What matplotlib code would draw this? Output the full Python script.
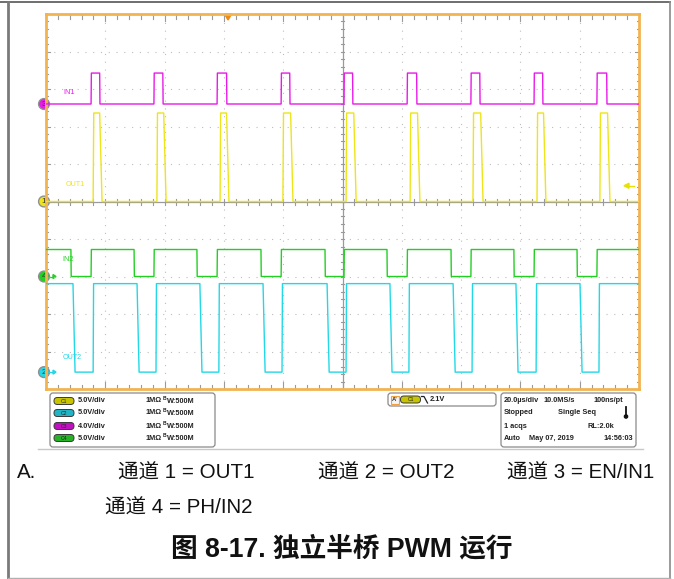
import matplotlib
matplotlib.use("Agg")
import matplotlib.pyplot as plt
from matplotlib.patches import FancyBboxPatch, Circle, Polygon, Rectangle
import numpy as np

plt.rcParams['font.family'] = ['Liberation Sans', 'Noto Sans CJK SC', 'DejaVu Sans']

# ---------------- data (time in µs, levels in volts) ----------------
time_span_us = 200.0          # 20 µs/div x 10 div
volts_per_div = {"C1": 5.0, "C2": 5.0, "C3": 4.0, "C4": 5.0}
offset_div = {"C1": 0.0, "C2": -4.55, "C3": 2.60, "C4": -2.0}
low_v = {"C1": 0.0, "C2": 0.0, "C3": 0.0, "C4": 0.0}
high_v = {"C1": 11.8, "C2": 11.8, "C3": 3.3, "C4": 3.6}

# OUT1 (C1): pulses high
out1_rise = [15.9, 37.4, 58.7, 79.9, 101.2, 122.8, 144.0, 165.6, 186.8]
out1_fall = [18.9, 40.5, 61.7, 83.3, 104.6, 126.1, 147.4, 168.6, 190.2]
# OUT2 (C2): normally high, pulses low
out2_fall = [9.1, 30.7, 51.9, 73.2, 94.8, 116.0, 137.3, 158.5, 180.1]
out2_rise = [15.9, 37.1, 58.3, 79.6, 101.2, 122.4, 143.7, 165.3, 186.5]
# EN/IN1 (C3): pulses high
in1_rise = [15.2, 36.4, 57.7, 79.3, 100.5, 121.8, 143.3, 164.6, 185.8]
in1_fall = [18.2, 39.5, 61.0, 82.3, 103.5, 125.1, 146.4, 167.6, 189.2]
# PH/IN2 (C4): normally high, pulses low
in2_fall = [8.4, 29.7, 50.9, 72.5, 94.1, 115.0, 136.6, 157.8, 179.1]
in2_rise = [15.2, 36.4, 57.7, 79.3, 100.5, 121.8, 143.3, 164.6, 185.8]

trigger_level_v = 2.1
trigger_time_us = 61.4

ch_info = ["5.0V/div", "5.0V/div", "4.0V/div", "5.0V/div"]
ch_names = ["C1", "C2", "C3", "C4"]
notes_row1 = ["通道 1 = OUT1", "通道 2 = OUT2", "通道 3 = EN/IN1"]
notes_row2 = ["通道 4 = PH/IN2"]
title = "图 8-17. 独立半桥 PWM 运行"

colors = {"C1": "#EEE41A", "C2": "#22D8E6", "C3": "#E81AE8", "C4": "#22D022"}
pill_colors = {"C1": "#C8C400", "C2": "#20B4C4", "C3": "#C010C0", "C4": "#28B028"}

# ---------------- figure ----------------
W, H = 674, 579
fig = plt.figure(figsize=(W / 100, H / 100), dpi=100)
bg = fig.add_axes([0, 0, 1, 1])
bg.set_xlim(0, W)
bg.set_ylim(H, 0)
bg.axis("off")

# outer frame
bg.plot([0, 670], [2, 2], color="#555555", lw=1.2)
bg.plot([8, 8], [2, H], color="#7a7a7a", lw=2.0)
bg.plot([670, 670], [2, H], color="#8a8a8a", lw=1.2)
bg.plot([8, 670], [577.5, 577.5], color="#b0b0b0", lw=1.0)
bg.plot([38, 643], [448.5, 448.5], color="#c8c8c8", lw=1.0)

# scope area
gx0, gy0, gx1, gy1 = 46, 14, 639, 389
sc = fig.add_axes([gx0 / W, 1 - gy1 / H, (gx1 - gx0) / W, (gy1 - gy0) / H])
sc.set_xlim(0, time_span_us)
sc.set_ylim(-5, 5)
sc.set_xticks([])
sc.set_yticks([])
for s in sc.spines.values():
    s.set_color("#F2B350")
    s.set_linewidth(2.0)
sc.patch.set_alpha(0)

# dotted grid
for k in range(1, 10):
    if k != 5:
        sc.axvline(k * 20, color="#bdbdbd", lw=0.8, ls=(0, (1, 6)), zorder=1)
for k in range(-4, 5):
    if k != 0:
        sc.axhline(k, color="#bdbdbd", lw=0.8, ls=(0, (1, 6)), zorder=1)
# center lines
sc.axvline(100, color="#9a9a9a", lw=0.9, zorder=1)
sc.axhline(0, color="#9a9a9a", lw=0.9, zorder=1)
# minor ticks on borders and center lines
tk = "#9a9a9a"
for i in range(1, 50):
    x = i * 4
    L = 0.12 if i % 5 else 0.18
    sc.plot([x, x], [5, 5 - L], color=tk, lw=0.8, zorder=1)
    sc.plot([x, x], [-5, -5 + L], color=tk, lw=0.8, zorder=1)
    sc.plot([x, x], [-0.08, 0.08], color=tk, lw=0.8, zorder=1)
for i in range(1, 50):
    y = -5 + i * 0.2
    L = 0.8 if i % 5 else 1.2
    sc.plot([0, L], [y, y], color=tk, lw=0.8, zorder=1)
    sc.plot([200, 200 - L], [y, y], color=tk, lw=0.8, zorder=1)
    sc.plot([99.4, 100.6], [y, y], color=tk, lw=0.8, zorder=1)


def to_div(ch, v):
    return offset_div[ch] + v / volts_per_div[ch]


def pulse_wave(ch, up_edges, down_edges, start_high, up_dt, down_dt):
    lo, hi = to_div(ch, low_v[ch]), to_div(ch, high_v[ch])
    events = [(t, "up") for t in up_edges] + [(t, "down") for t in down_edges]
    events.sort()
    xs, ys = [0.0], [hi if start_high else lo]
    for t, kind in events:
        if kind == "up":
            xs += [t, t + up_dt]
            ys += [lo, hi]
        else:
            xs += [t - down_dt, t] if not start_high else [t, t + down_dt]
            ys += [hi, lo]
    xs.append(time_span_us)
    ys.append(ys[-1])
    return xs, ys


x1, y1 = pulse_wave("C1", out1_rise, out1_fall, False, 0.2, 0.8)
x2, y2 = pulse_wave("C2", out2_rise, out2_fall, True, 0.15, 0.7)
x3, y3 = pulse_wave("C3", in1_rise, in1_fall, False, 0.1, 0.1)
x4, y4 = pulse_wave("C4", in2_rise, in2_fall, True, 0.1, 0.1)
sc.plot(x1, y1, color=colors["C1"], lw=1.0, zorder=3)
sc.plot(x2, y2, color=colors["C2"], lw=1.0, zorder=3)
sc.plot(x4, y4, color=colors["C4"], lw=1.0, zorder=4)
sc.plot(x3, y3, color=colors["C3"], lw=1.0, zorder=4)

# trace labels
sc.text(6.0, to_div("C3", 0) + 0.32, "IN1", color=colors["C3"], fontsize=5.2, va="center")
sc.text(6.5, to_div("C1", 0) + 0.45, "OUT1", color=colors["C1"], fontsize=5.2, va="center")
sc.text(5.5, to_div("C4", 0) + 0.45, "IN2", color=colors["C4"], fontsize=5.2, va="center")
sc.text(5.5, to_div("C2", 0) + 0.38, "OUT2", color=colors["C2"], fontsize=5.2, va="center")


# channel markers (pixel coords on bg)
def div_to_py(d):
    return (gy0 + gy1) / 2 - d * (gy1 - gy0) / 10


for ch, num, arrow in [("C3", "3", False), ("C1", "1", False), ("C4", "4", True), ("C2", "2", True)]:
    py = div_to_py(offset_div[ch])
    bg.add_patch(Circle((44, py), 5.4, facecolor=colors[ch], edgecolor="#909090", lw=1.0, zorder=6))
    bg.text(44, py + 0.3, num, fontsize=6, ha="center", va="center", color="#333333", zorder=7)
    if arrow:
        bg.plot([49, 54], [py, py], color=colors[ch], lw=0.9, zorder=6)
        bg.add_patch(Polygon([[53, py - 2], [56, py], [53, py + 2]], closed=True, color=colors[ch], zorder=6))

# trigger position marker (top)
tx = gx0 + trigger_time_us / time_span_us * (gx1 - gx0)
bg.add_patch(Polygon([[tx - 3.5, 14], [tx + 3.5, 14], [tx, 20]], closed=True, color="#F08A10", zorder=6))
# trigger level marker (right)
ty = div_to_py(to_div("C1", trigger_level_v))
bg.add_patch(Polygon([[624, ty], [629, ty - 2.5], [629, ty + 2.5]], closed=True, color="#E8E000", zorder=6))
bg.plot([628, 634], [ty, ty], color="#E8E000", lw=1.0, zorder=6)

# ---------------- info boxes ----------------
def rbox(x0, y0, x1, y1):
    bg.add_patch(FancyBboxPatch((x0, y0), x1 - x0, y1 - y0,
                                boxstyle="round,pad=0,rounding_size=3",
                                facecolor="white", edgecolor="#8a8a8a", lw=0.9, zorder=2))


def pill(cx, cy, ch, w=20, h=7):
    bg.add_patch(FancyBboxPatch((cx - w / 2, cy - h / 2), w, h,
                                boxstyle="round,pad=0,rounding_size=3.4",
                                facecolor=pill_colors[ch], edgecolor="#3a3a3a", lw=0.7, zorder=3))
    bg.text(cx, cy + 0.2, ch, fontsize=3.6, ha="center", va="center", color="#222222", zorder=4)


rbox(50, 393, 215, 447)
rows_y = [401, 413, 426, 438]
info_fs = 5.3
for ch, info, ry in zip(ch_names, ch_info, rows_y):
    pill(64, ry, ch)
    bg.text(78, ry, info, fontsize=info_fs, fontweight="bold", va="center", color="#222222", zorder=4)
    bg.text(145, ry, "1MΩ", fontsize=info_fs, fontweight="bold", va="center", color="#222222", zorder=4)
    bg.text(166.2, ry - 2.4, "B", fontsize=3.6, fontweight="bold", ha="right", va="center", color="#222222", zorder=4)
    bg.text(166.5, ry + 0.8, "W:500M", fontsize=info_fs, fontweight="bold", va="center", color="#222222", zorder=4)

# trigger box
rbox(388, 393, 496, 406)
bg.add_patch(Rectangle((391, 395.5), 8, 8, facecolor="#f4f4f4", edgecolor="#F0A040", lw=0.8, zorder=3))
bg.text(395, 399.8, "A'", fontsize=4.2, fontweight="bold", ha="center", va="center", color="#333333", zorder=4)
pill(410.5, 399.5, "C1")
bg.plot([421.5, 424, 427.5], [396.5, 396.5, 403], color="#222222", lw=0.9, zorder=4)
bg.text(430, 399.5, "2.1V", fontsize=info_fs, fontweight="bold", va="center", color="#222222", zorder=4)

# time-base box
rbox(501, 393, 636, 447)
tb = [
    (504, 401, "20.0µs/div"), (543, 401, "10.0MS/s"), (593, 401, "100ns/pt"),
    (504, 413, "Stopped"), (558, 413, "Single Seq"),
    (504, 426, "1 acqs"), (587, 426, "RL:2.0k"),
    (504, 438, "Auto"), (529, 438, "May 07, 2019"), (603, 438, "14:56:03"),
]
for x, y, s in tb:
    bg.text(x, y, s, fontsize=info_fs, fontweight="bold", va="center", color="#222222", zorder=4)
# thermometer icon
bg.plot([626, 626], [407, 416], color="#111111", lw=1.3, zorder=4)
bg.add_patch(Circle((626, 416.5), 1.6, color="#111111", zorder=4))

# ---------------- notes and title ----------------
note_fs = 14.8
bg.text(17, 473, "A.", fontsize=note_fs, va="center", ha="left", color="#111111")
for x, s in zip([118, 318, 507], notes_row1):
    bg.text(x, 473, s, fontsize=note_fs, va="center", ha="left", color="#111111")
bg.text(105, 508, notes_row2[0], fontsize=note_fs, va="center", ha="left", color="#111111")
bg.text(342, 549, title, fontsize=19.2, fontweight="bold", va="center", ha="center", color="#111111")

fig.savefig("out.png", dpi=100)
